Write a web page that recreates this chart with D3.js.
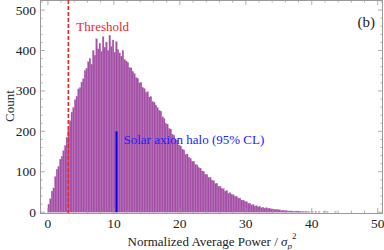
<!DOCTYPE html>
<html>
<head>
<meta charset="utf-8">
<script src="https://cdn.jsdelivr.net/npm/d3@7"></script>
<style>
  body { margin: 0; background: #fff; }
</style>
</head>
<body>
<div id="chart"></div>
<script>

// histogram data: counts per bin, bins start at 0
const binWidth = 0.25;
const counts = [
  20, 33, 52, 60, 88, 106, 113, 131, 138, 152, 165, 184, 203, 226, 248, 259, 278, 287, 305, 308,
  322, 330, 350, 356, 372, 380, 366, 400, 388, 429, 404, 418, 398, 434, 408, 421, 400, 437, 410, 426,
  396, 422, 402, 394, 386, 400, 378, 374, 370, 358, 357, 348, 343, 333, 331, 320, 321, 308, 306, 296,
  298, 285, 286, 274, 272, 265, 259, 252, 250, 236, 232, 219, 218, 207, 206, 193, 190, 180, 178, 166,
  164, 156, 154, 143, 144, 136, 133, 126, 126, 118, 117, 110, 109, 102, 101, 94, 93, 86, 86, 79,
  78, 71, 71, 64, 64, 58, 58, 52, 53, 47, 48, 43, 43, 39, 39, 35, 35, 30, 30, 26,
  26, 22, 22, 18, 19, 15, 16, 13, 14, 11, 12, 10, 11, 9, 10, 8, 8, 7, 7, 6,
  6, 4, 5, 4, 4, 3, 3, 3, 3, 2, 3, 2, 2, 1, 2, 1, 1, 1, 1, 0,
  1, 0, 1, 0, 1, 0, 0, 1, 0, 1, 0, 0, 0, 0, 1, 0
];
const threshold = 3.1;
const haloLimit = 10.4;
const haloTop = 200;
const xTicks = [0, 10, 20, 30, 40, 50];
const yTicks = [0, 100, 200, 300, 400, 500];

const width = 384, height = 250;
const margin = {top: 0, right: 1, bottom: 37, left: 40};
const serif = "'Liberation Serif', 'Times New Roman', 'DejaVu Serif', serif";

const svg = d3.select("#chart").append("svg")
    .attr("width", width)
    .attr("height", height)
    .attr("font-family", serif);

const x = d3.scaleLinear().domain([-1.2, 50.8]).range([margin.left, width - margin.right]);
const y = d3.scaleLinear().domain([-2, 525]).range([height - margin.bottom, margin.top]);

// bars
svg.append("g")
  .selectAll("rect")
  .data(counts)
  .join("rect")
    .attr("x", (d, i) => x(i * binWidth))
    .attr("width", (d, i) => x((i + 1) * binWidth) - x(i * binWidth))
    .attr("y", d => y(d))
    .attr("height", d => y(0) - y(d))
    .attr("fill", "#a34fa5")
    .attr("stroke", "#b26ab4")
    .attr("stroke-width", 0.25);

// frame with inside ticks
const frameColor = "#9a9a9a";
const frame = svg.append("g");
frame.append("rect")
    .attr("x", margin.left + 0.5)
    .attr("y", margin.top + 0.5)
    .attr("width", width - margin.right - margin.left - 1)
    .attr("height", height - margin.bottom - margin.top)
    .attr("fill", "none")
    .attr("stroke", frameColor)
    .attr("stroke-width", 1);

const xMinor = d3.range(0, 51, 2).filter(v => !xTicks.includes(v));
const yMinor = d3.range(0, 521, 20).filter(v => !yTicks.includes(v));

const xb = y.range()[0], xt = y.range()[1];
const yl = x.range()[0], yr = x.range()[1];

function xTickLines(vals, len) {
  frame.selectAll(null).data(vals).join("line")
    .attr("x1", d => x(d)).attr("x2", d => x(d))
    .attr("y1", xb).attr("y2", xb - len)
    .attr("stroke", frameColor).attr("stroke-width", 0.8);
  frame.selectAll(null).data(vals).join("line")
    .attr("x1", d => x(d)).attr("x2", d => x(d))
    .attr("y1", xt).attr("y2", xt + len)
    .attr("stroke", frameColor).attr("stroke-width", 0.8);
}
function yTickLines(vals, len) {
  frame.selectAll(null).data(vals).join("line")
    .attr("y1", d => y(d)).attr("y2", d => y(d))
    .attr("x1", yl).attr("x2", yl + len)
    .attr("stroke", frameColor).attr("stroke-width", 0.8);
  frame.selectAll(null).data(vals).join("line")
    .attr("y1", d => y(d)).attr("y2", d => y(d))
    .attr("x1", yr).attr("x2", yr - len)
    .attr("stroke", frameColor).attr("stroke-width", 0.8);
}
xTickLines(xTicks, 5);
xTickLines(xMinor, 2.5);
yTickLines(yTicks, 5);
yTickLines(yMinor, 2.5);

// tick labels
svg.append("g").selectAll("text").data(xTicks).join("text")
    .attr("x", d => x(d))
    .attr("y", xb + 15)
    .attr("text-anchor", "middle")
    .attr("font-size", 13.5)
    .attr("fill", "#222")
    .text(d => d);

svg.append("g").selectAll("text").data(yTicks).join("text")
    .attr("x", yl - 4)
    .attr("y", d => y(d) + 4.5)
    .attr("text-anchor", "end")
    .attr("font-size", 13.5)
    .attr("fill", "#222")
    .text(d => d);

// axis titles
const xTitle = svg.append("text")
    .attr("x", 212)
    .attr("y", 246)
    .attr("text-anchor", "middle")
    .attr("font-size", 13)
    .attr("fill", "#222");
xTitle.append("tspan").text("Normalized Average Power / ");
xTitle.append("tspan").attr("font-style", "italic").text("σ");
xTitle.append("tspan").attr("font-style", "italic").attr("font-size", 9).attr("dy", 3).text("p");
xTitle.append("tspan").attr("font-size", 9).attr("dy", -10).text("2");

svg.append("text")
    .attr("transform", "translate(14," + 106 + ") rotate(-90)")
    .attr("text-anchor", "middle")
    .attr("font-size", 13)
    .attr("fill", "#222")
    .text("Count");

// threshold line
svg.append("line")
    .attr("x1", x(threshold)).attr("x2", x(threshold))
    .attr("y1", y(525)).attr("y2", y(-2))
    .attr("stroke", "#e8262a")
    .attr("stroke-width", 1.6)
    .attr("stroke-dasharray", "4,2");
svg.append("text")
    .attr("x", x(threshold) + 8)
    .attr("y", 31)
    .attr("font-size", 13)
    .attr("fill", "#e8262a")
    .text("Threshold");

// solar axion halo limit
svg.append("line")
    .attr("x1", x(haloLimit)).attr("x2", x(haloLimit))
    .attr("y1", y(haloTop)).attr("y2", y(0))
    .attr("stroke", "#0000ff")
    .attr("stroke-width", 2);
svg.append("text")
    .attr("x", x(haloLimit) + 7)
    .attr("y", 144)
    .attr("font-size", 13)
    .attr("fill", "#2020ff")
    .text("Solar axion halo (95% CL)");

svg.append("text")
    .attr("x", 375)
    .attr("y", 27)
    .attr("text-anchor", "end")
    .attr("font-size", 15)
    .attr("fill", "#222")
    .text("(b)");

</script>
</body>
</html>
